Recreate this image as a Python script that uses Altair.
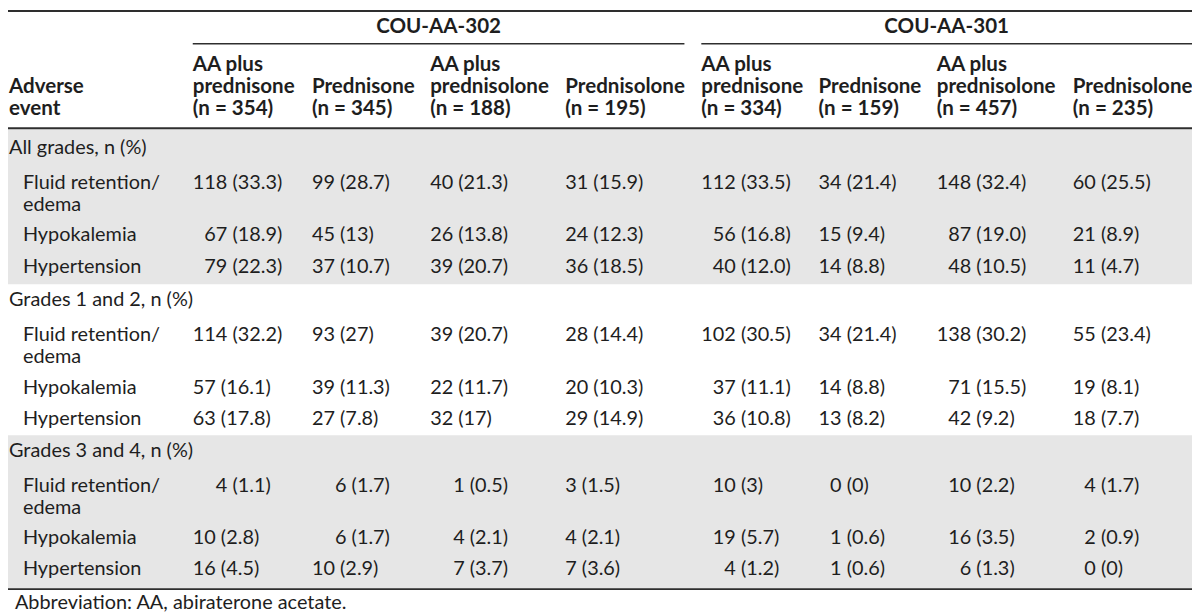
import altair as alt
import pandas as pd

# ---------------- data ----------------
groups = ["COU-AA-302", "COU-AA-301"]
arm_line1 = ["AA plus", "", "AA plus", "", "AA plus", "", "AA plus", ""]
arm_line2 = ["prednisone", "Prednisone", "prednisolone", "Prednisolone",
             "prednisone", "Prednisone", "prednisolone", "Prednisolone"]
arm_n = [354, 345, 188, 195, 334, 159, 457, 235]
first_col_head = ["Adverse", "event"]
sections = ["All grades, n (%)", "Grades 1 and 2, n (%)", "Grades 3 and 4, n (%)"]
events = [["Fluid retention/", "edema"], ["Hypokalemia"], ["Hypertension"]]

counts_all = [[118, 99, 40, 31, 112, 34, 148, 60],
              [67, 45, 26, 24, 56, 15, 87, 21],
              [79, 37, 39, 36, 40, 14, 48, 11]]
pct_all = [["33.3", "28.7", "21.3", "15.9", "33.5", "21.4", "32.4", "25.5"],
           ["18.9", "13", "13.8", "12.3", "16.8", "9.4", "19.0", "8.9"],
           ["22.3", "10.7", "20.7", "18.5", "12.0", "8.8", "10.5", "4.7"]]
counts_g12 = [[114, 93, 39, 28, 102, 34, 138, 55],
              [57, 39, 22, 20, 37, 14, 71, 19],
              [63, 27, 32, 29, 36, 13, 42, 18]]
pct_g12 = [["32.2", "27", "20.7", "14.4", "30.5", "21.4", "30.2", "23.4"],
           ["16.1", "11.3", "11.7", "10.3", "11.1", "8.8", "15.5", "8.1"],
           ["17.8", "7.8", "17", "14.9", "10.8", "8.2", "9.2", "7.7"]]
counts_g34 = [[4, 6, 1, 3, 10, 0, 10, 4],
              [10, 6, 4, 4, 19, 1, 16, 2],
              [16, 10, 7, 7, 4, 1, 6, 0]]
pct_g34 = [["1.1", "1.7", "0.5", "1.5", "3", "0", "2.2", "1.7"],
           ["2.8", "1.7", "2.1", "2.1", "5.7", "0.6", "3.5", "0.9"],
           ["4.5", "2.9", "3.7", "3.6", "1.2", "0.6", "1.3", "0"]]
footnote = "Abbreviation: AA, abiraterone acetate."

section_counts = [counts_all, counts_g12, counts_g34]
section_pcts = [pct_all, pct_g12, pct_g34]

# ---------------- layout (not data) ----------------
# leading figure spaces per cell, mimicking the original's manual alignment
pads = [[0, 0, 0, 0, 0, 0, 0, 0],
        [1, 0, 0, 0, 1, 0, 1, 0],
        [1, 0, 0, 0, 1, 0, 1, 0],
        [0, 0, 0, 0, 0, 0, 0, 0],
        [0, 0, 0, 0, 1, 0, 1, 0],
        [0, 0, 0, 0, 1, 0, 1, 0],
        [2, 2, 2, 0, 1, 1, 1, 1],
        [0, 2, 2, 0, 1, 1, 1, 1],
        [0, 0, 2, 0, 2, 1, 2, 1]]
FIG = "\u2007"   # figure space (digit width)
ZW = "\u200b"    # zero-width guard so leading spaces are not trimmed

W, H = 1192, 607          # chart area; page offset is 8px
OFF = 8
# column left edges in page pixels
col_x_page = [9, 194, 314, 433, 569, 706, 824, 943, 1080]
# text-line centres in page pixels
line_y_page = [25, 63, 86, 108,                 # group title, header lines
               147, 182, 204, 235, 267,         # all grades
               300, 335, 357, 389, 420,         # grades 1-2
               452, 487, 509, 540, 571,         # grades 3-4
               605]                             # footnote

FONT = "Lato"
FS = 20
FSB = 20.7
TXT = "#1e1e1e"
LINE = "#2e2e2e"
BAND = "#e6e6e6"

# ---------------- tables ----------------
bold_rows = [{"col": 0, "line": 2, "text": first_col_head[0]},
             {"col": 0, "line": 3, "text": first_col_head[1]}]
for i in range(8):
    if arm_line1[i]:
        bold_rows.append({"col": i + 1, "line": 1, "text": arm_line1[i]})
    bold_rows.append({"col": i + 1, "line": 2, "text": arm_line2[i]})
    bold_rows.append({"col": i + 1, "line": 3, "text": f"(n = {arm_n[i]})"})
bold_df = pd.DataFrame(bold_rows)

sec_rows, ev_rows, cell_rows = [], [], []
r = 0
for s in range(3):
    base = 4 + 5 * s
    sec_rows.append({"col": 0, "line": base, "text": sections[s]})
    line = base + 1
    for e in range(3):
        for k, t in enumerate(events[e]):
            ev_rows.append({"col": 0, "line": line + k, "text": t})
        for c in range(8):
            lead = (ZW + FIG * pads[r][c]) if pads[r][c] else ""
            txt = lead + f"{section_counts[s][e][c]} ({section_pcts[s][e][c]})"
            cell_rows.append({"col": c + 1, "line": line, "text": txt})
        line += len(events[e])
        r += 1
sec_df = pd.DataFrame(sec_rows)
ev_df = pd.DataFrame(ev_rows)
cell_df = pd.DataFrame(cell_rows)
foot_df = pd.DataFrame([{"col": 0, "line": 19, "text": footnote}])

xscale = alt.Scale(domain=list(range(9)), range=[v - OFF for v in col_x_page],
                   nice=False, zero=False)
yscale = alt.Scale(domain=list(range(20)), range=[v - OFF for v in line_y_page],
                   nice=False, zero=False)


def text_layer(df, weight="normal", dx=0, size=FS):
    return alt.Chart(df).mark_text(
        font=FONT, fontSize=size, fontWeight=weight, align="left",
        baseline="middle", color=TXT, dx=dx
    ).encode(
        x=alt.X("col:Q", scale=xscale, axis=None),
        y=alt.Y("line:Q", scale=yscale, axis=None),
        text="text:N",
    )


dummy = pd.DataFrame({"k": [0]})


def band(y0, y1):
    return alt.Chart(dummy).mark_rect(color=BAND).encode(
        x=alt.value(0), x2=alt.value(W),
        y=alt.value(y0 - OFF), y2=alt.value(y1 - OFF))


def hrule(x0, x1, y, w):
    return alt.Chart(dummy).mark_rule(color=LINE, strokeWidth=w).encode(
        x=alt.value(max(x0 - OFF, 0)), x2=alt.value(x1 - OFF), y=alt.value(y - OFF))


def group_title(text, xc):
    return alt.Chart(pd.DataFrame({"text": [text]})).mark_text(
        font=FONT, fontSize=FSB, fontWeight="bold", align="center",
        baseline="middle", color=TXT
    ).encode(x=alt.value(xc - OFF), y=alt.value(line_y_page[0] - OFF), text="text:N")


g1_x0, g1_x1 = col_x_page[1], col_x_page[5] - 17
g2_x0, g2_x1 = col_x_page[5], 1200

chart = alt.layer(
    band(128, 284),
    band(436, 591),
    hrule(0, 1200, 9, 2),
    hrule(g1_x0, g1_x1, 42, 1.6),
    hrule(g2_x0, g2_x1, 42, 1.6),
    hrule(0, 1200, 127, 2.2),
    hrule(0, 1200, 591, 1.8),
    group_title(groups[0], (g1_x0 + g1_x1) / 2),
    group_title(groups[1], (g2_x0 + g2_x1) / 2),
    text_layer(bold_df, "bold", size=FSB),
    text_layer(sec_df),
    text_layer(ev_df, dx=14),
    text_layer(cell_df),
    text_layer(foot_df, dx=6),
).properties(
    width=W, height=H,
    autosize=alt.AutoSizeParams(type="none"),
    padding=0,
    background="white",
).configure_view(strokeWidth=0)

chart.save("out.html", embed_options={"renderer": "svg", "actions": False})
